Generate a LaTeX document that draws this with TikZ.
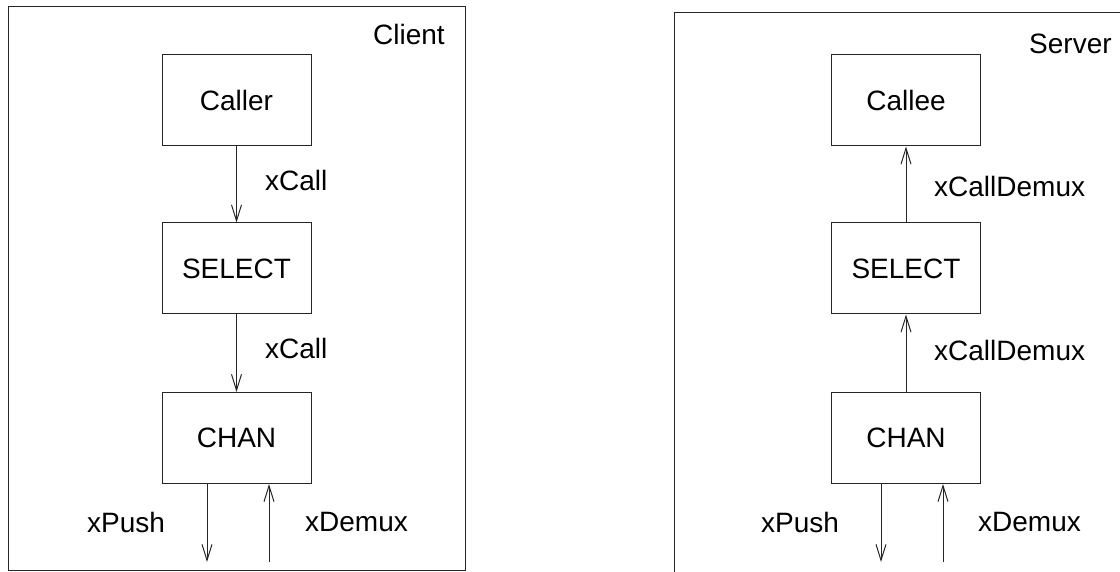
\documentclass[tikz,border=0pt]{standalone}
\usepackage{fontspec}
\setmainfont{Liberation Sans}
\usetikzlibrary{arrows.meta}

\tikzset{
  ln/.style={draw=black!85, line width=1pt},
  blk/.style={ln, rectangle, minimum width=149pt, minimum height=91pt,
              inner sep=0pt, font=\fontsize{28}{31}\selectfont},
  lbl/.style={inner sep=0pt, anchor=west, font=\fontsize{28}{31}\selectfont},
  flow/.style={ln, -{Straight Barb[length=16pt,width=10pt,line width=1pt]}},
}

\begin{document}
\begin{tikzpicture}[x=1pt,y=-1pt]
  \useasboundingbox (0,0) rectangle (1120,572);
  \clip (0,0) rectangle (1120,572);

  % Client side
  \draw[ln] (8,7) rectangle (465,570);
  \node[lbl] (clientname) at (373,34.5) {Client};
  \node[blk] (caller)  at (236.5,100.5) {Caller};
  \node[blk] (selectc) at (236.5,268.5) {SELECT};
  \node[blk] (chanc)   at (236.5,438)   {CHAN};
  \coordinate (pushc) at (207,562);
  \coordinate (demuxc) at (269,562);

  \draw[flow] (caller.south) -- (selectc.north);
  \draw[flow] (selectc.south) -- (chanc.north);
  \draw[flow] (chanc.south -| pushc) -- (pushc);
  \draw[flow] (demuxc) -- (chanc.south -| demuxc);

  \node[lbl] (callc1) at (265,180)   {xCall};
  \node[lbl] (callc2) at (265,348.5) {xCall};
  \node[lbl] (pushlc) at (87,522.5)  {xPush};
  \node[lbl] (demlc)  at (305,522.5) {xDemux};

  % Server side
  \draw[ln] (674,13) rectangle (1135,590);
  \node[lbl] (servername) at (1029,44) {Server};
  \node[blk] (callee)  at (906,100.5) {Callee};
  \node[blk] (selects) at (906,268.5) {SELECT};
  \node[blk] (chans)   at (906,438)   {CHAN};
  \coordinate (pushs) at (881,562);
  \coordinate (demuxs) at (943,562);

  \draw[flow] (selects.north) -- (callee.south);
  \draw[flow] (chans.north) -- (selects.south);
  \draw[flow] (chans.south -| pushs) -- (pushs);
  \draw[flow] (demuxs) -- (chans.south -| demuxs);

  \node[lbl] (calls1) at (934,186) {xCallDemux};
  \node[lbl] (calls2) at (934,350) {xCallDemux};
  \node[lbl] (pushls) at (761,522.5) {xPush};
  \node[lbl] (demls)  at (978,522.5) {xDemux};
\end{tikzpicture}
\end{document}
